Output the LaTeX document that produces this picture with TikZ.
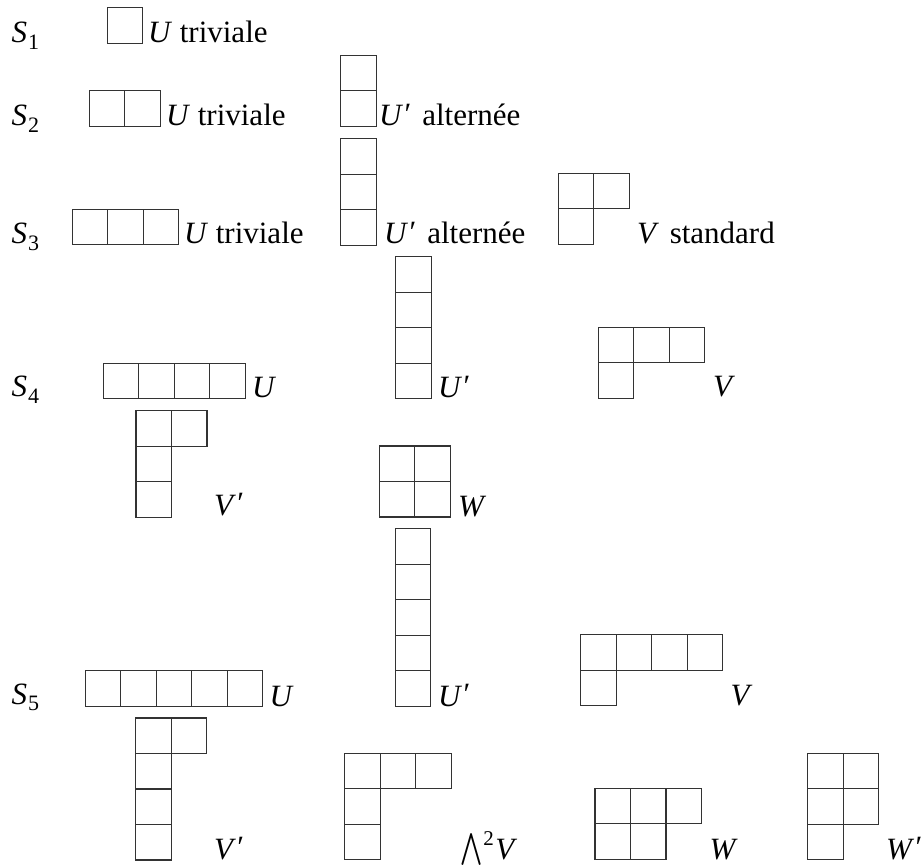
\documentclass[tikz,border=0pt]{standalone}
\usepackage{fontspec}
\setmainfont{Liberation Serif}
\newcommand\symgrp[1]{\textit{S}\kern0.03em\raisebox{-0.22em}{\fontsize{22}{22}\selectfont #1}}
\newcommand\prm{\kern0.05em\raisebox{0.05em}{′}}
\newcommand\bigand{\raisebox{1.5pt}{\scalebox{2.65}[3.2]{\fontsize{10}{12}\selectfont$\bigwedge$}}}
\newcommand\youngd[3]{%
  \foreach \len [count=\r from 0] in {#3} {%
    \foreach \c in {1,...,\len} {%
      \draw[cell] ({#1+(\c-1)*35.5}, {#2+\r*35.5}) rectangle ++(35.5,35.5);
    }%
  }%
}
\begin{document}
\begin{tikzpicture}[x=1pt,y=-1pt,
  cell/.style={draw=black!80,line width=1.1pt},
  lab/.style={anchor=base west,inner sep=0pt,outer sep=0pt,font=\fontsize{31}{36}\selectfont}]
\useasboundingbox (0,0) rectangle (921,866);
% Row S1
\node[lab] (s1) at (11.7,42.5) {\symgrp{1}};
\youngd{107.3}{7.7}{1}
\node[lab] (l1u) at (148,42.5) {\textit{U}\/ triviale};
% Row S2
\node[lab] (s2) at (11.7,126) {\symgrp{2}};
\youngd{89.3}{90.7}{2}
\node[lab] (l2u) at (166,126) {\textit{U}\/ triviale};
\youngd{340.7}{55.3}{1,1}
\node[lab] (l2up) at (379,126) {\textit{U}\prm\hspace{0.1em} alternée};
% Row S3
\node[lab] (s3) at (11.7,244) {\symgrp{3}};
\youngd{72.3}{209.3}{3}
\node[lab] (l3u) at (184,244) {\textit{U}\/ triviale};
\youngd{340.7}{138.7}{1,1,1}
\node[lab] (l3up) at (384,244) {\textit{U}\prm\hspace{0.1em} alternée};
\youngd{558.3}{173.3}{2,1}
\node[lab] (l3v) at (637,244) {\textit{V}\hspace{0.1em} standard};
% Row S4
\node[lab] (s4) at (11.7,397) {\symgrp{4}};
\youngd{103.3}{363.3}{4}
\node[lab] (l4u) at (252,398) {\textit{U}};
\youngd{395.7}{256.7}{1,1,1,1}
\node[lab] (l4up) at (438,398) {\textit{U}\prm};
\youngd{598.3}{327.3}{3,1}
\node[lab] (l4v) at (713,397) {\textit{V}};
\youngd{136}{410.7}{2,1,1}
\node[lab] (l4vp) at (214,515) {\textit{V}\prm};
\youngd{379.3}{446}{2,2}
\node[lab] (l4w) at (458,516) {\textit{W}};
% Row S5
\node[lab] (s5) at (11.7,704) {\symgrp{5}};
\youngd{85.3}{670.7}{5}
\node[lab] (l5u) at (269.5,706) {\textit{U}};
\youngd{395.3}{528.7}{1,1,1,1,1}
\node[lab] (l5up) at (438,706) {\textit{U}\prm};
\youngd{580.7}{634.7}{4,1}
\node[lab] (l5v) at (730.5,705) {\textit{V}};
\youngd{135.7}{718}{2,1,1,1}
\node[lab] (l5vp) at (214,859) {\textit{V}\prm};
\youngd{344.7}{753.3}{3,1,1}
\node[lab] (l5l) at (460,859) {\bigand\kern0.04em\raisebox{0.42em}{\fontsize{21}{21}\selectfont 2}\kern0.05em\textit{V}};
\youngd{595}{788.3}{3,2}
\node[lab] (l5w) at (709.5,859) {\textit{W}};
\youngd{807.7}{753.3}{2,2,1}
\node[lab] (l5wp) at (886,859) {\textit{W}\prm};
\end{tikzpicture}
\end{document}
